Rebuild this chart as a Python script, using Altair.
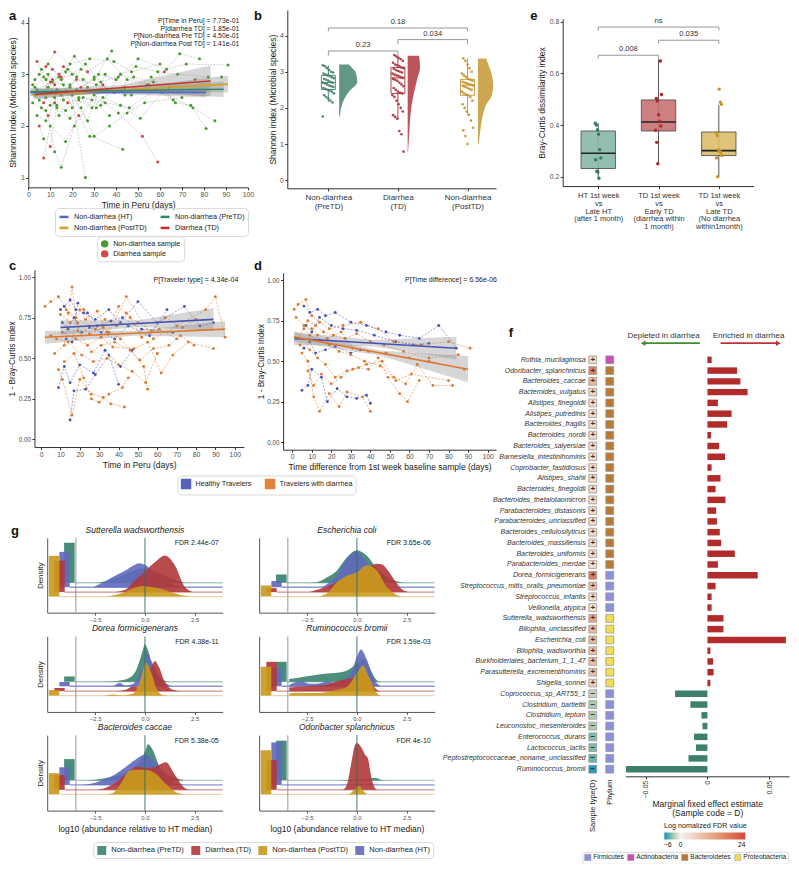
import altair as alt
import pandas as pd

FONT = "Liberation Sans"
S = 0.98
W, H = 783, 856


def X(p):
    return round((p - 2) * S, 2)


def Y(p):
    return round((p - 1) * S, 2)


# ----------------------------------------------------------------- data: a
A_KINDS = ["Non-diarrhea sample", "Diarrhea sample"]
a_days = [
    [2, 6, 11, 16, 22, 30, 38], [3, 7, 9, 14, 20, 27, 35, 44], [4, 8, 12, 18, 25, 33, 42, 55],
    [5, 7, 10, 13, 19, 26], [6, 9, 12, 15, 21, 29, 37], [3, 8, 12, 19, 28, 39, 47, 60],
    [5, 9, 14, 20, 30, 41, 52, 59], [7, 10, 17, 23, 28, 43], [10, 15, 22, 31, 44, 56, 67, 74, 81],
    [4, 11, 17, 24, 32, 40, 50, 63, 72, 91], [2, 8, 13, 18, 25, 35, 46, 58, 66],
    [9, 14, 21, 27, 36, 45, 54, 62, 69, 78], [6, 10, 16, 23, 29, 34, 42, 51, 61, 75, 85],
    [3, 7, 12, 16, 22, 27, 34, 39, 48, 57, 64, 76, 88], [8, 13, 19, 24, 30, 37, 45, 53, 70],
    [5, 9, 15, 20, 26, 33, 41, 49, 59, 68, 82], [4, 8, 12, 17, 23, 31], [11, 15, 19, 24, 30, 36, 47]]
a_vals = [
    [2.8, 3.1, 2.9, 2.5, 2.7, 2.9, 3.45], [2.6, 2.45, 3.0, 2.2, 2.6, 2.1, 3.0, 2.75],
    [3.25, 2.9, 2.55, 3.1, 2.9, 2.4, 3.0, 2.8], [2.0, 1.75, 1.6, 2.4, 2.8, 1.0],
    [2.35, 2.2, 1.5, 1.2, 2.0, 2.5, 2.2], [2.9, 3.15, 3.43, 3.2, 3.3, 3.25, 3.05, 3.2],
    [2.5, 2.75, 3.0, 2.35, 2.6, 2.25, 1.8, 1.3], [1.38, 2.0, 1.7, 2.2, 1.8, 1.55],
    [2.4, 2.6, 2.9, 2.8, 2.6, 2.95, 2.45, 2.4, 1.95], [2.7, 2.85, 3.05, 2.75, 3.0, 2.9, 3.3, 3.1, 3.2, 3.18],
    [2.45, 2.3, 2.7, 2.45, 2.55, 2.45, 2.35, 2.7, 2.5], [3.2, 2.95, 3.35, 3.05, 3.3, 2.9, 2.8, 3.05, 3.4, 3.3],
    [2.65, 2.85, 2.8, 2.5, 2.35, 2.55, 2.4, 2.15, 2.65, 2.35, 2.1],
    [2.75, 2.95, 2.8, 3.15, 2.95, 2.75, 2.8, 2.65, 2.95, 2.85, 2.75, 2.9, 2.95],
    [2.55, 2.35, 2.15, 2.35, 1.8, 2.0, 2.25, 2.45, 2.55], [3.0, 2.65, 2.9, 3.0, 3.2, 2.85, 2.95, 3.15, 3.05, 3.0, 2.95],
    [2.2, 2.1, 2.45, 2.3, 2.55, 2.35], [3.1, 2.95, 2.75, 3.1, 2.95, 2.7, 2.6]]
a_diar = [
    [0, 0, 1, 0, 0, 0, 0], [0, 1, 0, 0, 0, 0, 0, 0], [1, 0, 0, 0, 0, 0, 0, 0], [1, 0, 1, 0, 0, 0],
    [0, 1, 0, 0, 0, 0, 0], [0, 1, 1, 0, 0, 0, 0, 0], [0, 0, 1, 0, 0, 0, 1, 1], [1, 0, 0, 1, 0, 0],
    [0, 0, 1, 0, 0, 0, 0, 0, 0], [0, 0, 0, 1, 0, 0, 0, 0, 0, 0], [0, 0, 0, 1, 0, 0, 0, 0, 0],
    [0, 0, 0, 1, 0, 0, 0, 1, 0, 0], [0, 1, 0, 0, 0, 0, 0, 0, 0, 0, 0],
    [0, 0, 1, 1, 0, 0, 1, 0, 0, 0, 0, 0, 0], [0, 0, 0, 0, 0, 0, 0, 0, 0],
    [0, 0, 0, 0, 0, 0, 0, 0, 0, 0, 0], [0, 0, 1, 0, 0, 0], [1, 1, 0, 0, 0, 0, 0]]
A_GROUPS = ["Non-diarrhea (HT)", "Non-diarrhea (PostTD)", "Non-diarrhea (PreTD)", "Diarrhea (TD)"]
A_COLORS = ["#5566c8", "#d4a020", "#2e8a6e", "#c8322d"]
a_fit_days = [[1, 40, 81], [2, 45, 91], [1, 45, 89], [3, 42, 83]]
a_fit_vals = [[2.65, 2.65, 2.65], [2.6, 2.7, 2.81], [2.66, 2.685, 2.71], [2.61, 2.74, 2.87]]
a_fit_hw = [[0.06, 0.03, 0.1], [0.07, 0.04, 0.16], [0.08, 0.04, 0.15], [0.1, 0.05, 0.3]]
a_notes = ["P[Time in Peru] = 7.73e-01", "P[diarrhea TD] = 1.85e-01",
           "P[Non-diarrhea Pre TD] = 4.50e-01", "P[Non-diarrhea Post TD] = 1.41e-01"]

# ----------------------------------------------------------------- data: b
B_CATS = ["PreTD", "TD", "PostTD"]
B_COLORS = ["#3f7f6c", "#ad3035", "#c2932b"]
b_pre = [3.18, 3.15, 3.1, 3.05, 3.0, 2.98, 2.95, 2.92, 2.9, 2.88, 2.85, 2.82, 2.8, 2.78, 2.75, 2.72, 2.7,
         2.7, 2.68, 2.65, 2.62, 2.6, 2.58, 2.55, 2.52, 2.5, 2.48, 2.45, 2.4, 2.35, 2.3, 2.25, 2.2, 2.15, 1.76]
b_td = [3.46, 3.42, 3.38, 3.35, 3.3, 3.25, 3.2, 3.18, 3.15, 3.12, 3.1, 3.08, 3.05, 3.02, 3.0, 2.98, 2.95,
        2.92, 2.9, 2.88, 2.85, 2.83, 2.8, 2.78, 2.75, 2.7, 2.65, 2.6, 2.55, 2.5, 2.45, 2.42, 2.4, 2.35,
        2.3, 2.2, 2.1, 2.0, 1.9, 1.8, 1.75, 1.7, 1.36, 1.27, 0.79]
b_post = [3.37, 3.3, 3.2, 3.1, 3.0, 2.95, 2.9, 2.85, 2.8, 2.78, 2.75, 2.72, 2.7, 2.68, 2.66, 2.64, 2.62,
          2.6, 2.58, 2.55, 2.52, 2.5, 2.45, 2.4, 2.37, 2.35, 2.3, 2.2, 2.1, 2.0, 1.9, 1.81, 1.65, 1.45,
          1.38, 1.22, 1.0]
b_q1 = [2.51, 2.40, 2.35]
b_med = [2.70, 2.83, 2.63]
b_q3 = [2.90, 3.12, 2.79]
b_lo = [2.17, 1.68, 1.81]
b_hi = [3.17, 3.44, 3.37]
b_vio_y = [[1.76, 1.9, 2.17, 2.45, 2.72, 3.0, 3.1, 3.2],
           [0.79, 1.18, 1.63, 2.08, 2.44, 2.82, 3.11, 3.3, 3.44],
           [1.0, 1.36, 1.72, 2.08, 2.35, 2.63, 2.99, 3.2, 3.37]]
b_vio_w = [[0.01, 0.02, 0.056, 0.14, 0.26, 0.235, 0.19, 0.14],
           [0.005, 0.019, 0.033, 0.056, 0.094, 0.14, 0.178, 0.172, 0.164],
           [0.009, 0.033, 0.061, 0.117, 0.2, 0.22, 0.188, 0.15, 0.117]]
b_br_x1 = [1, 2, 1]
b_br_x2 = [2, 3, 3]
b_br_y = [3.575, 3.89, 4.21]
b_br_tick = [0.13, 0.12, 0.09]
b_br_lab = ["0.23", "0.034", "0.18"]

# ----------------------------------------------------------------- data: e
E_COLORS = ["#2f7d64", "#a82a2a", "#c8921e"]
E_FILLS = ["#8ab8aa", "#c97272", "#dcbd6a"]
e_pts = [[0.407, 0.4, 0.382, 0.364, 0.305, 0.273, 0.266, 0.221, 0.218, 0.194],
         [0.648, 0.518, 0.503, 0.493, 0.44, 0.415, 0.396, 0.38, 0.333, 0.25],
         [0.539, 0.488, 0.48, 0.37, 0.36, 0.305, 0.3, 0.295, 0.282, 0.273, 0.2]]
e_q1 = [0.232, 0.377, 0.282]
e_med = [0.291, 0.412, 0.301]
e_q3 = [0.377, 0.497, 0.373]
e_lo = [0.194, 0.25, 0.2]
e_hi = [0.407, 0.655, 0.478]
e_br_x1 = [1, 2, 1]
e_br_x2 = [2, 3, 3]
e_br_y = [0.67, 0.728, 0.779]
e_br_tick = [0.013, 0.013, 0.013]
e_br_lab = ["0.008", "0.035", "ns"]

# ----------------------------------------------------------------- data: c, d
CD_GROUPS = ["Healthy Travelers", "Travelers with diarrhea"]
CD_COLORS = ["#4652b5", "#e0762a"]
c_b_days = [[10, 12, 15, 18, 22, 28, 35, 41, 50, 60, 74, 82, 89], [11, 14, 17, 21, 25, 31, 38, 45, 56, 65],
            [9, 12, 15, 20, 27, 33, 41, 47], [13, 16, 19, 24, 29, 36, 42, 52, 68], [15, 17, 23, 28, 35, 40]]
c_b_vals = [[0.80, 0.82, 0.86, 0.80, 0.78, 0.74, 0.80, 0.72, 0.85, 0.72, 0.82, 0.70, 0.72],
            [0.72, 0.68, 0.75, 0.66, 0.69, 0.66, 0.62, 0.70, 0.64, 0.80],
            [0.32, 0.45, 0.35, 0.46, 0.41, 0.55, 0.45, 0.55],
            [0.62, 0.60, 0.84, 0.78, 0.70, 0.73, 0.75, 0.68, 0.66],
            [0.12, 0.30, 0.31, 0.40, 0.52, 0.34]]
c_o_days = [[2, 5, 9, 13, 18, 25, 35, 44, 58, 70, 85, 90, 95], [9, 11, 16, 20, 26, 32, 36, 43],
            [7, 12, 16, 19, 26, 31, 38, 46, 53, 55], [8, 14, 21, 27, 34, 40, 47, 54, 60],
            [10, 15, 22, 28, 33, 39, 44, 50, 57, 64, 73, 80], [12, 17, 22, 26, 30, 35, 42, 45],
            [5, 11, 18, 24, 31, 37, 48, 55, 62, 68, 76, 89], [14, 19, 25, 32, 41, 51, 58, 66, 72, 79],
            [20, 23, 29, 34, 40, 46, 52, 61, 70]]
c_o_vals = [[0.82, 0.85, 0.88, 0.80, 0.75, 0.70, 0.66, 0.88, 0.62, 0.70, 0.80, 0.88, 0.63],
            [0.43, 0.37, 0.15, 0.37, 0.28, 0.26, 0.22, 0.20],
            [0.53, 0.58, 0.94, 0.67, 0.54, 0.58, 0.60, 0.55, 0.45, 0.31],
            [0.62, 0.60, 0.52, 0.48, 0.50, 0.46, 0.42, 0.35, 0.53],
            [0.77, 0.72, 0.80, 0.68, 0.74, 0.70, 0.78, 0.72, 0.67, 0.75, 0.69, 0.74],
            [0.48, 0.53, 0.38, 0.25, 0.23, 0.28, 0.32, 0.38],
            [0.64, 0.66, 0.62, 0.58, 0.63, 0.57, 0.56, 0.60, 0.41, 0.52, 0.60, 0.56],
            [0.78, 0.72, 0.65, 0.69, 0.62, 0.49, 0.56, 0.58, 0.64, 0.58],
            [0.80, 0.74, 0.79, 0.66, 0.82, 0.75, 0.63, 0.68, 0.62]]
c_fit_days = [[10, 50, 89], [2, 48, 95]]
c_fit_vals = [[0.69, 0.715, 0.74], [0.63, 0.655, 0.68]]
c_fit_hw = [[0.045, 0.02, 0.07], [0.04, 0.015, 0.05]]

d_b_days = [[6, 9, 13, 17, 22, 30, 38, 48, 55, 65, 75, 84], [5, 8, 10, 15, 18, 23, 28, 33, 38, 40],
            [7, 10, 14, 20, 26, 33, 42, 53, 62, 70], [6, 9, 12, 17, 22, 30, 35]]
d_b_vals = [[0.84, 0.80, 0.82, 0.78, 0.80, 0.74, 0.72, 0.68, 0.66, 0.64, 0.72, 0.58],
            [0.32, 0.35, 0.45, 0.40, 0.25, 0.33, 0.28, 0.27, 0.29, 0.24],
            [0.72, 0.68, 0.77, 0.72, 0.70, 0.69, 0.66, 0.62, 0.60, 0.61],
            [0.58, 0.62, 0.55, 0.57, 0.59, 0.55, 0.57]]
d_o_days = [[1, 3, 7, 10, 14, 19, 26, 35, 44, 52, 66, 80, 91], [5, 8, 11, 14, 19, 24, 28, 36, 40],
            [4, 9, 13, 17, 22, 28, 34, 39, 44, 49, 55, 59, 65],
            [6, 9, 14, 19, 24, 30, 37, 45, 52, 58, 64, 72, 82],
            [3, 8, 12, 16, 21, 27, 33, 40, 47, 57, 70, 85], [8, 11, 15, 20, 25, 31, 38, 46, 53, 61, 80],
            [2, 6, 10, 13, 18, 25, 31, 39, 48, 60, 70, 88]]
d_o_vals = [[0.82, 0.85, 0.88, 0.78, 0.74, 0.70, 0.72, 0.74, 0.70, 0.62, 0.60, 0.62, 0.58],
            [0.55, 0.50, 0.28, 0.19, 0.30, 0.22, 0.31, 0.28, 0.19],
            [0.60, 0.57, 0.52, 0.48, 0.40, 0.44, 0.46, 0.45, 0.52, 0.40, 0.30, 0.25, 0.38],
            [0.70, 0.66, 0.63, 0.60, 0.56, 0.54, 0.50, 0.47, 0.40, 0.36, 0.48, 0.35, 0.35],
            [0.64, 0.75, 0.72, 0.68, 0.66, 0.64, 0.67, 0.62, 0.60, 0.56, 0.52, 0.54],
            [0.44, 0.35, 0.42, 0.36, 0.40, 0.45, 0.48, 0.50, 0.38, 0.42, 0.38],
            [0.77, 0.72, 0.70, 0.66, 0.64, 0.68, 0.58, 0.56, 0.55, 0.52, 0.50, 0.45]]
d_fit_days = [[1, 42, 84], [1, 45, 90]]
d_fit_vals = [[0.64, 0.61, 0.58], [0.65, 0.55, 0.45]]
d_fit_hw = [[0.04, 0.02, 0.07], [0.03, 0.015, 0.08]]

# ----------------------------------------------------------------- data: f
f_species = ["Rothia_mucilaginosa", "Odoribacter_splanchnicus", "Bacteroides_caccae", "Bacteroides_vulgatus",
             "Alistipes_finegoldii", "Alistipes_putredinis", "Bacteroides_fragilis", "Bacteroides_nordii",
             "Bacteroides_salyersiae", "Barnesiella_intestinihominis", "Coprobacter_fastidiosus",
             "Alistipes_shahii", "Bacteroides_finegoldii", "Bacteroides_thetaiotaomicron",
             "Parabacteroides_distasonis", "Parabacteroides_unclassified", "Bacteroides_cellulosilyticus",
             "Bacteroides_massiliensis", "Bacteroides_uniformis", "Parabacteroides_merdae",
             "Dorea_formicigenerans", "Streptococcus_mitis_oralis_pneumoniae", "Streptococcus_infantis",
             "Veillonella_atypica", "Sutterella_wadsworthensis", "Bilophila_unclassified", "Escherichia_coli",
             "Bilophila_wadsworthia", "Burkholderiales_bacterium_1_1_47", "Parasutterella_excrementihominis",
             "Shigella_sonnei", "Coprococcus_sp_ART55_1", "Clostridium_bartlettii", "Clostridium_leptum",
             "Leuconostoc_mesenteroides", "Enterococcus_durans", "Lactococcus_lactis",
             "Peptostreptococcaceae_noname_unclassified", "Ruminococcus_bromii"]
f_est = [0.0034, 0.024, 0.0267, 0.0325, 0.0085, 0.0196, 0.016, 0.0029, 0.0095, 0.0143, 0.0034, 0.0106,
         0.0066, 0.0146, 0.0071, 0.0077, 0.010, 0.0111, 0.0222, 0.0085, 0.0407, 0.0066, 0.0034, 0.0034,
         0.013, 0.013, 0.0635, 0.0024, 0.0045, 0.005, 0.0024, -0.0262, -0.0138, -0.0048, -0.004,
         -0.0108, -0.0093, -0.0153, -0.066]
f_fdr = [4, 17, 9, 5, 4, 4, 4, 4, 4, 4, 4, 4, 4, 4, 4, 4, 4, 4, 4, 3, 18, 8, 4, 3, 12, 9, 9, 8, 8, 8, 6,
         -2, -2.5, -2.5, -2.5, -3.5, -3.5, -4, -5.5]
f_phylum = (["Actinobacteria"] + ["Bacteroidetes"] * 19 + ["Firmicutes"] * 4 + ["Proteobacteria"] * 7
            + ["Firmicutes"] * 8)
PHYLA = ["Firmicutes", "Actinobacteria", "Bacteroidetes", "Proteobacteria"]
PHYLA_COLORS = ["#8c8fdc", "#c94fb2", "#b87a33", "#f2dc55"]

# ----------------------------------------------------------------- data: g
G_KEY = {"PreTD": "Non-diarrhea (PreTD)", "HT": "Non-diarrhea (HT)", "TD": "Diarrhea (TD)",
         "PostTD": "Non-diarrhea (PostTD)"}
g_names = ["Sutterella wadsworthensis", "Escherichia coli", "Dorea formicigenerans", "Ruminococcus bromii",
           "Bacteroides caccae", "Odoribacter splanchnicus"]
g_fdr = ["FDR 2.44e-07", "FDR 3.65e-06", "FDR 4.38e-11", "FDR 1.59e-03", "FDR 5.38e-05", "FDR 4e-10"]
g_sut = {"PreTD": ([-2.5, -2.0, -1.5, -1.0, -0.5, 0.0, 0.5, 1.0, 1.5, 2.0], [0, 0.2, 0.6, 1.1, 1.7, 1.9, 1.5, 0.9, 0.4, 0]),
         "HT": ([-2.6, -2.0, -1.6, -1.0, -0.5, -0.3, 0.0, 0.5, 1.0, 1.5, 2.0], [0, 0.8, 1.4, 2.2, 3.0, 3.2, 3.0, 1.8, 0.8, 0.3, 0]),
         "TD": ([-1.5, -1.0, -0.5, 0.0, 0.5, 1.0, 1.5, 2.0, 2.4], [0, 0.3, 1.6, 2.8, 4.0, 4.9, 3.6, 0.7, 0]),
         "PostTD": ([-2.0, -1.5, -1.0, -0.5, -0.15, 0.5, 1.0, 1.5, 2.0, 2.3], [0, 0.2, 0.6, 1.2, 1.43, 1.2, 0.87, 0.43, 0.1, 0])}
g_eco = {"PreTD": ([-2.4, -2.0, -1.5, -1.0, -0.5, 0.0, 0.5, 1.0, 1.5, 2.0, 2.4], [0, 0.1, 0.74, 1.65, 3.4, 4.35, 3.6, 1.9, 0.8, 0.2, 0]),
         "HT": ([-1.8, -1.5, -1.0, -0.5, 0.0, 0.5, 1.0, 1.5, 1.8], [0, 0.4, 1.6, 3.8, 4.74, 3.3, 1.3, 0.2, 0]),
         "TD": ([-2.4, -2.0, -1.5, -1.0, -0.5, 0.0, 0.5, 1.0, 1.3, 1.5, 2.0, 2.3, 2.6], [0, 0.3, 0.74, 1.4, 2.0, 2.35, 3.1, 3.8, 3.65, 3.1, 1.2, 0.3, 0]),
         "PostTD": ([-1.9, -1.5, -1.0, -0.5, 0.0, 0.5, 1.0, 1.5, 2.0, 2.3], [0, 0.43, 1.96, 2.8, 3.26, 4.2, 3.5, 1.3, 0.2, 0])}
g_dor = {"PreTD": ([-2.0, -1.2, -0.8, -0.4, -0.15, 0.0, 0.15, 0.4, 0.8, 1.2], [0, 0.2, 0.5, 1.8, 3.8, 4.95, 4.2, 1.8, 0.4, 0]),
         "HT": ([-1.6, -1.25, -1.0, -0.6, -0.3, 0.0, 0.12, 0.3, 0.6, 1.0, 1.4], [0, 0.45, 0.1, 0.3, 1.5, 3.4, 4.35, 3.5, 1.8, 0.5, 0]),
         "TD": ([-1.5, -1.0, -0.6, -0.3, 0.0, 0.3, 0.5, 0.7, 1.0, 1.4, 1.8], [0, 0.15, 0.65, 0.5, 1.5, 3.0, 4.0, 3.2, 1.2, 0.2, 0]),
         "PostTD": ([-2.0, -1.6, -1.2, -0.6, -0.3, 0.05, 0.35, 0.6, 0.9, 1.2], [0, 0.15, 0.05, 0.3, 1.5, 4.4, 2.8, 0.8, 0.1, 0])}
g_rum = {"PreTD": ([-3.4, -2.5, -1.5, -1.0, -0.5, 0.0, 0.3, 0.6, 1.0, 1.2], [0.35, 0.74, 1.1, 1.2, 1.5, 2.4, 3.0, 2.0, 0.2, 0]),
         "HT": ([-3.4, -2.8, -2.4, -2.0, -1.4, -1.1, -0.8, -0.3, 0.0, 0.2, 0.5, 0.8, 1.0, 1.2], [0.2, 0.65, 0.35, 0.35, 0.65, 0.4, 0.65, 1.74, 3.9, 4.87, 3.5, 1.3, 0.4, 0]),
         "TD": ([-3.4, -2.5, -1.5, -1.0, -0.5, 0.0, 0.3, 0.6, 1.0, 1.2], [0.5, 0.65, 0.87, 1.3, 1.6, 1.96, 2.4, 1.5, 0.2, 0]),
         "PostTD": ([-3.4, -3.0, -2.0, -1.0, -0.5, 0.0, 0.3, 0.6, 1.0, 1.2], [0.3, 0.4, 0.35, 0.8, 1.2, 3.0, 4.0, 2.5, 0.35, 0])}
g_cac = {"PreTD": ([-3.0, -2.0, -1.5, -1.0, -0.5, 0.0, 0.15, 0.4, 0.7, 1.0, 1.5, 2.0], [0, 0.3, 0.6, 1.0, 1.8, 3.8, 4.8, 4.0, 2.0, 1.0, 0.4, 0]),
         "HT": ([-3.2, -2.5, -2.0, -1.5, -1.0, -0.5, 0.0, 0.5, 1.0, 1.5, 2.0], [0, 0.3, 0.8, 1.4, 2.3, 3.3, 4.0, 3.1, 1.4, 0.3, 0]),
         "TD": ([-2.4, -2.0, -1.5, -1.0, -0.5, -0.3, 0.0, 0.4, 0.7, 1.05, 1.5, 2.0, 2.3], [0, 0.25, 0.9, 2.0, 3.0, 3.1, 2.9, 2.95, 3.3, 3.65, 2.0, 0.26, 0]),
         "PostTD": ([-2.0, -1.6, -1.2, -0.8, -0.5, 0.0, 0.3, 0.6, 1.0, 1.5, 2.0], [0, 0.2, 1.5, 3.1, 3.26, 3.26, 3.1, 2.6, 1.5, 0.4, 0])}
g_odo = {"PreTD": ([-0.8, -0.3, 0.3, 0.6, 0.9, 1.2, 1.5], [0, 0.1, 0.15, 0.2, 0.35, 0.1, 0]),
         "HT": ([-0.8, -0.2, 0.3, 0.8, 1.2], [0, 0.05, 0.1, 0.05, 0]),
         "TD": ([-0.7, -0.5, -0.3, -0.1, 0.0, 0.2, 0.4, 0.55, 0.7, 0.9, 1.05], [0, 0.7, 3.3, 5.9, 6.2, 5.7, 4.7, 4.2, 2.0, 0.26, 0]),
         "PostTD": ([-0.5, -0.3, -0.1, 0.1, 0.3, 0.5], [0, 0.2, 0.7, 1.1, 0.5, 0])}
g_curves = [g_sut, g_eco, g_dor, g_rum, g_cac, g_odo]
# zero-abundance bar tops, order PreTD, HT, TD, PostTD
g_bars = [[9.35, 8.13, 6.96, 7.6], [5.11, 4.23, 3.28, 3.62], [4.7, 3.96, 3.17, 2.9],
          [6.64, 5.77, 6.64, 5.99], [6.83, 5.74, 4.7, 4.96], [9.27, 9.04, 6.68, 8.0]]

# ----------------------------------------------------------------- helpers
BASE_AX = dict(grid=False, labelFontSize=6.8, titleFontSize=8.5, labelColor="#4d4d4d",
               titleColor="#1a1a1a", domainColor="#333333", tickColor="#333333",
               tickSize=2.5, labelPadding=1.5, titlePadding=2.5, titleFontWeight="normal",
               labelFlush=False, labelOverlap=False, labelFont=FONT, titleFont=FONT)


def axb(yref, **kw):
    d = dict(BASE_AX)
    d.update(kw)
    return alt.Axis(orient="bottom", offset=round(Y(yref) - H, 2), **d)


def axl(xref, **kw):
    d = dict(BASE_AX)
    d.update(kw)
    return alt.Axis(orient="left", offset=round(-X(xref), 2), **d)


def xsc(dom, x0, x1):
    return alt.Scale(domain=dom, range=[X(x0), X(x1)], nice=False, zero=False)


def ysc(dom, yb, yt):
    return alt.Scale(domain=dom, range=[Y(yb), Y(yt)], nice=False, zero=False)


def label(text, px, py, **kw):
    return alt.Chart(pd.DataFrame({"k": [0]})).mark_text(text=text, **kw).encode(
        x=alt.value(X(px)), y=alt.value(Y(py)))


LEG = dict(labelFont=FONT, labelFontSize=7.2, labelColor="#222222", strokeColor="#d9d9d9",
           padding=3, cornerRadius=4, title=None)

layers = []

# ----------------------------------------------------------------- panel a
rows = []
for s, (ds, vs, ks) in enumerate(zip(a_days, a_vals, a_diar)):
    for d, v, k in zip(ds, vs, ks):
        rows.append({"subj": s, "day": d, "val": v, "kind": A_KINDS[k]})
df_a = pd.DataFrame(rows)
rows = []
for g, ds, vs, hs in zip(A_GROUPS, a_fit_days, a_fit_vals, a_fit_hw):
    for d, v, h in zip(ds, vs, hs):
        rows.append({"grp": g, "day": d, "fit": v, "lo": v - h, "hi": v + h})
df_fa = pd.DataFrame(rows)
sxa = xsc([0, 100], 22.7, 246.7)
sya = ysc([0.81, 4.114], 184, 10)
xa_a = axb(184, values=list(range(0, 101, 10)), title="Time in Peru (days)")
ya_a = axl(22.7, values=[1, 2, 3, 4], title="Shannon Index (Microbial species)", titlePadding=3)
a_traj = alt.Chart(df_a).mark_line(strokeDash=[1.5, 1.5], strokeWidth=0.5, color="#8f8f8f").encode(
    x=alt.X("day:Q", scale=sxa, axis=xa_a), y=alt.Y("val:Q", scale=sya, axis=ya_a), detail="subj:N")
a_pts = alt.Chart(df_a).mark_circle(size=9, opacity=1).encode(
    x=alt.X("day:Q", scale=sxa, axis=xa_a), y=alt.Y("val:Q", scale=sya, axis=ya_a),
    fill=alt.Fill("kind:N", scale=alt.Scale(domain=A_KINDS, range=["#4a9a2e", "#d24646"]),
                  legend=alt.Legend(orient="none", legendX=X(93), legendY=Y(234), symbolType="circle",
                                    symbolSize=55, rowPadding=1, **LEG)))
a_band = alt.Chart(df_fa).mark_area(color="#8a8a8a", opacity=0.35).encode(
    x=alt.X("day:Q", scale=sxa, axis=xa_a), y=alt.Y("lo:Q", scale=sya, axis=ya_a), y2="hi:Q", detail="grp:N")
a_fit = alt.Chart(df_fa).mark_line(strokeWidth=1.6).encode(
    x=alt.X("day:Q", scale=sxa, axis=xa_a), y=alt.Y("fit:Q", scale=sya, axis=ya_a),
    color=alt.Color("grp:N", scale=alt.Scale(domain=A_GROUPS, range=A_COLORS),
                    legend=alt.Legend(orient="none", legendX=X(50), legendY=Y(205), columns=2,
                                      symbolType="stroke", symbolStrokeWidth=2.5, symbolSize=80,
                                      columnPadding=8, rowPadding=0, **LEG)))
a_note = label(a_notes, 238, 11.5, align="right", baseline="top", fontSize=6.8, lineHeight=7.5, color="#222222")
layers.append(alt.layer(a_traj, a_pts, a_band, a_fit, a_note))


# ----------------------------------------------------------------- box helpers
def jitter(i, amp):
    return ((i * 37) % 17 - 8) / 8 * amp


def brackets(x1s, x2s, ys, ticks, labs, sx, sy, xa, ya):
    df = pd.DataFrame({"x1": x1s, "x2": x2s, "y": ys, "yt": [y - t for y, t in zip(ys, ticks)],
                       "xm": [(a + b) / 2 for a, b in zip(x1s, x2s)], "lab": labs})
    r1 = alt.Chart(df).mark_rule(color="#8c8c8c", strokeWidth=0.9).encode(
        x=alt.X("x1:Q", scale=sx, axis=xa), x2="x2:Q", y=alt.Y("y:Q", scale=sy, axis=ya))
    r2 = alt.Chart(df).mark_rule(color="#8c8c8c", strokeWidth=0.9).encode(
        x=alt.X("x1:Q", scale=sx, axis=xa), y=alt.Y("y:Q", scale=sy, axis=ya), y2="yt:Q")
    r3 = alt.Chart(df).mark_rule(color="#8c8c8c", strokeWidth=0.9).encode(
        x=alt.X("x2:Q", scale=sx, axis=xa), y=alt.Y("y:Q", scale=sy, axis=ya), y2="yt:Q")
    t = alt.Chart(df).mark_text(fontSize=7.5, color="#333333", baseline="bottom", dy=-2).encode(
        x=alt.X("xm:Q", scale=sx, axis=xa), y=alt.Y("y:Q", scale=sy, axis=ya), text="lab:N")
    return [r1, r2, r3, t]


# ----------------------------------------------------------------- panel b
sxb = xsc([0.41, 3.41], 287, 500)
syb = ysc([-0.225, 4.71], 185, 3)
bcol = alt.Scale(domain=B_CATS, range=B_COLORS)
B_LAB = ("datum.value == 1 ? ['Non-diarrhea', '(PreTD)'] : datum.value == 2 ? ['Diarrhea', '(TD)'] "
         ": ['Non-diarrhea', '(PostTD)']")
xa_b = axb(185, values=[1, 2, 3], labelExpr=B_LAB, labelFontSize=8, labelColor="#333333",
           labelLineHeight=9, labelPadding=3, title=None)
ya_b = axl(287, values=[0, 1, 2, 3, 4], title="Shannon index (Microbial species)")
rows = []
i = 0
for c, pos, vals in zip(B_CATS, [1, 2, 3], [b_pre, b_td, b_post]):
    for v in vals:
        rows.append({"cat": c, "x": pos + jitter(i, 0.08), "v": v})
        i += 1
df_bp = pd.DataFrame(rows)
rows = []
for c, pos, off, ys, ws in zip(B_CATS, [1, 2, 3], [0.155, 0.14, 0.15], b_vio_y, b_vio_w):
    for y, w in zip(ys, ws):
        rows.append({"cat": c, "y": y, "xl": pos + off, "xr": pos + off + w})
df_bv = pd.DataFrame(rows)
df_bb = pd.DataFrame({"cat": B_CATS, "pos": [1, 2, 3], "xl": [0.9, 1.9, 2.9], "xr": [1.1, 2.1, 3.1],
                      "q1": b_q1, "med": b_med, "q3": b_q3, "lo": b_lo, "hi": b_hi})
b_vio = alt.Chart(df_bv).mark_area(orient="horizontal", interpolate="monotone", opacity=0.82).encode(
    y=alt.Y("y:Q", scale=syb, axis=ya_b), x=alt.X("xl:Q", scale=sxb, axis=xa_b), x2="xr:Q",
    color=alt.Color("cat:N", scale=bcol, legend=None))
b_box = alt.Chart(df_bb).mark_rect(fillOpacity=0, strokeWidth=0.9).encode(
    x=alt.X("xl:Q", scale=sxb, axis=xa_b), x2="xr:Q",
    y=alt.Y("q1:Q", scale=syb, axis=ya_b), y2="q3:Q", stroke=alt.Stroke("cat:N", scale=bcol, legend=None))
b_med = alt.Chart(df_bb).mark_rule(strokeWidth=1).encode(
    x=alt.X("xl:Q", scale=sxb, axis=xa_b), x2="xr:Q", y=alt.Y("med:Q", scale=syb, axis=ya_b),
    color=alt.Color("cat:N", scale=bcol, legend=None))
b_w1 = alt.Chart(df_bb).mark_rule(strokeWidth=0.9).encode(
    x=alt.X("pos:Q", scale=sxb, axis=xa_b), y=alt.Y("lo:Q", scale=syb, axis=ya_b), y2="q1:Q",
    color=alt.Color("cat:N", scale=bcol, legend=None))
b_w2 = alt.Chart(df_bb).mark_rule(strokeWidth=0.9).encode(
    x=alt.X("pos:Q", scale=sxb, axis=xa_b), y=alt.Y("q3:Q", scale=syb, axis=ya_b), y2="hi:Q",
    color=alt.Color("cat:N", scale=bcol, legend=None))
b_pts = alt.Chart(df_bp).mark_circle(size=7, opacity=0.9).encode(
    x=alt.X("x:Q", scale=sxb, axis=xa_b), y=alt.Y("v:Q", scale=syb, axis=ya_b),
    color=alt.Color("cat:N", scale=bcol, legend=None))
layers.append(alt.layer(b_vio, b_box, b_med, b_w1, b_w2, b_pts,
                        *brackets(b_br_x1, b_br_x2, b_br_y, b_br_tick, b_br_lab, sxb, syb, xa_b, ya_b)))

# ----------------------------------------------------------------- panel e
sxe = xsc([0.41, 3.58], 568, 763)
sye = ysc([0.164, 0.811], 182.7, 12)
ecol = alt.Scale(domain=B_CATS, range=E_COLORS)
efill = alt.Scale(domain=B_CATS, range=E_FILLS)
E_LAB = ("datum.value == 1 ? ['HT 1st week', 'vs', 'Late HT', '(after 1 month)'] : datum.value == 2 ? "
         "['TD 1st week', 'vs', 'Early TD', '(diarrhea within', '1 month)'] : "
         "['TD 1st week', 'vs', 'Late TD', '(No diarrhea', 'within1month)']")
xa_e = axb(182.7, values=[1, 2, 3], labelExpr=E_LAB, labelFontSize=7.5, labelColor="#333333",
           labelLineHeight=7.8, labelPadding=3, title=None)
ya_e = axl(568, values=[0.2, 0.4, 0.6, 0.8], format=".1f", title="Bray-Curtis dissimilarity index")
rows = []
i = 0
for c, pos, vals in zip(B_CATS, [1, 2, 3], e_pts):
    for v in vals:
        rows.append({"cat": c, "x": pos + jitter(i, 0.05), "v": v})
        i += 1
df_ep = pd.DataFrame(rows)
df_eb = pd.DataFrame({"cat": B_CATS, "pos": [1, 2, 3], "xl": [0.715, 1.715, 2.715], "xr": [1.285, 2.285, 3.285],
                      "q1": e_q1, "med": e_med, "q3": e_q3, "lo": e_lo, "hi": e_hi})
e_w1 = alt.Chart(df_eb).mark_rule(strokeWidth=1, color="#555555").encode(
    x=alt.X("pos:Q", scale=sxe, axis=xa_e), y=alt.Y("lo:Q", scale=sye, axis=ya_e), y2="hi:Q")
e_box = alt.Chart(df_eb).mark_rect(stroke="#444444", strokeWidth=0.9, opacity=0.9).encode(
    x=alt.X("xl:Q", scale=sxe, axis=xa_e), x2="xr:Q", y=alt.Y("q1:Q", scale=sye, axis=ya_e), y2="q3:Q",
    fill=alt.Fill("cat:N", scale=efill, legend=None))
e_med = alt.Chart(df_eb).mark_rule(strokeWidth=1.6, color="#222222").encode(
    x=alt.X("xl:Q", scale=sxe, axis=xa_e), x2="xr:Q", y=alt.Y("med:Q", scale=sye, axis=ya_e))
e_pts = alt.Chart(df_ep).mark_circle(size=12, opacity=1).encode(
    x=alt.X("x:Q", scale=sxe, axis=xa_e), y=alt.Y("v:Q", scale=sye, axis=ya_e),
    color=alt.Color("cat:N", scale=ecol, legend=None))
layers.append(alt.layer(e_w1, e_box, e_med, e_pts,
                        *brackets(e_br_x1, e_br_x2, e_br_y, e_br_tick, e_br_lab, sxe, sye, xa_e, ya_e)))


# ----------------------------------------------------------------- panels c, d
def cd_panel(bd, bv, od, ov, fd, fv, fh, sx, sy, xb, yl, xtitle, note, note_x, note_y, legend):
    rows = []
    for gi, (dd, vv) in enumerate([(bd, bv), (od, ov)]):
        for s, (ds, vs) in enumerate(zip(dd, vv)):
            for d, v in zip(ds, vs):
                rows.append({"grp": CD_GROUPS[gi], "subj": f"{gi}-{s}", "day": d, "val": v})
    df = pd.DataFrame(rows)
    rows = []
    for g, ds, vs, hs in zip(CD_GROUPS, fd, fv, fh):
        for d, v, h in zip(ds, vs, hs):
            rows.append({"grp": g, "day": d, "fit": v, "lo": v - h, "hi": v + h})
    dff = pd.DataFrame(rows)
    csc = alt.Scale(domain=CD_GROUPS, range=CD_COLORS)
    xa = axb(xb, values=list(range(0, 101, 10)), title=xtitle)
    ya = axl(yl, values=[0, 0.25, 0.5, 0.75, 1.0], format=".2f", title="1 - Bray-Curtis Index",
             labelFontSize=6.3, titlePadding=1.5, titleFontSize=8.2)
    leg = None
    if legend:
        leg = alt.Legend(orient="none", legendX=X(175), legendY=Y(478), direction="horizontal",
                         symbolType="square", symbolSize=80, columnPadding=10, **LEG)
    col = alt.Color("grp:N", scale=csc, legend=leg)
    traj = alt.Chart(df).mark_line(strokeDash=[2, 1.5], strokeWidth=0.6, opacity=0.9).encode(
        x=alt.X("day:Q", scale=sx, axis=xa), y=alt.Y("val:Q", scale=sy, axis=ya), detail="subj:N", color=col)
    pts = alt.Chart(df).mark_circle(size=8, opacity=1).encode(
        x=alt.X("day:Q", scale=sx, axis=xa), y=alt.Y("val:Q", scale=sy, axis=ya), color=col)
    band = alt.Chart(dff).mark_area(color="#8a8a8a", opacity=0.35).encode(
        x=alt.X("day:Q", scale=sx, axis=xa), y=alt.Y("lo:Q", scale=sy, axis=ya), y2="hi:Q", detail="grp:N")
    fit = alt.Chart(dff).mark_line(strokeWidth=1.6).encode(
        x=alt.X("day:Q", scale=sx, axis=xa), y=alt.Y("fit:Q", scale=sy, axis=ya), color=col)
    nt = label(note, note_x, note_y, align="right", baseline="middle", fontSize=7, color="#222222")
    return alt.layer(traj, pts, band, fit, nt)


layers.append(cd_panel(c_b_days, c_b_vals, c_o_days, c_o_vals, c_fit_days, c_fit_vals, c_fit_hw,
                       xsc([-3.4, 104.7], 29, 242.7), ysc([-0.0465, 1.0465], 449, 268), 449, 29,
                       "Time in Peru (days)", "P[Traveler type] = 4.34e-04", 237, 279, True))
layers.append(cd_panel(d_b_days, d_b_vals, d_o_days, d_o_vals, d_fit_days, d_fit_vals, d_fit_hw,
                       xsc([-4.66, 104.3], 282.7, 500), ysc([-0.0465, 1.0465], 451.7, 271), 451.7, 282.7,
                       "Time difference from 1st week baseline sample (days)",
                       "P[Time difference] = 6.56e-06", 501, 279, False))

# ----------------------------------------------------------------- panel f
df_f = pd.DataFrame({"species": f_species, "est": f_est, "fdr": f_fdr, "phylum": f_phylum,
                     "sign": ["+" if e > 0 else "\u2212" for e in f_est],
                     "dir": ["pos" if e > 0 else "neg" for e in f_est],
                     "c1": "Sample type(D)", "c2": "Phylum", "zero": 0.0})
syf = alt.Scale(type="band", domain=f_species, range=[Y(354.5), Y(783.2)], paddingInner=0.4, paddingOuter=0.2)
sxt = alt.Scale(type="band", domain=["Sample type(D)", "Phylum"], range=[X(590), X(624.7)],
                paddingInner=0, paddingOuter=0)
xa_t = axb(785, labelAngle=270, labelAlign="right", labelBaseline="middle", labelFontSize=7.5,
           labelColor="#222222", domain=False, ticks=False, labelPadding=3, title=None)
ya_t = axl(593, labelFontSize=7, labelFontStyle="italic", labelColor="#333333", domain=False, ticks=False,
           labelPadding=2, labelLimit=300, title=None)
t_fdr = alt.Chart(df_f).mark_square(size=62, filled=True, stroke="#9a9a9a", strokeWidth=0.8, opacity=1).encode(
    x=alt.X("c1:N", scale=sxt, axis=xa_t), y=alt.Y("species:N", scale=syf, axis=ya_t),
    color=alt.Color("fdr:Q", scale=alt.Scale(domain=[-6, 0, 24], range=["#1b8fc2", "#f5f3f1", "#d3473a"]),
                    legend=alt.Legend(orient="none", legendX=X(671.7), legendY=Y(832), direction="horizontal",
                                      title="Log nomalized FDR value", titleFontSize=7.2,
                                      titleFontWeight="normal", titleAnchor="middle", titleFont=FONT,
                                      titleColor="#222222",
                                      gradientLength=round(X(754) - X(671.7)), gradientThickness=7,
                                      values=[-6, 0, 24], labelFontSize=6.5, labelFont=FONT, titlePadding=3)))
t_sign = alt.Chart(df_f).mark_text(fontSize=8, fontWeight="bold", color="#333333", baseline="middle").encode(
    x=alt.X("c1:N", scale=sxt, axis=xa_t), y=alt.Y("species:N", scale=syf, axis=ya_t), text="sign:N")
t_phy = alt.Chart(df_f).mark_square(size=62, filled=True, stroke="#9a9a9a", strokeWidth=0.8, opacity=1).encode(
    x=alt.X("c2:N", scale=sxt, axis=xa_t), y=alt.Y("species:N", scale=syf, axis=ya_t),
    fill=alt.Fill("phylum:N", scale=alt.Scale(domain=PHYLA, range=PHYLA_COLORS),
                  legend=alt.Legend(orient="none", legendX=X(588), legendY=Y(862), direction="horizontal",
                                    symbolType="square", symbolSize=40, columnPadding=2, labelOffset=2,
                                    gridAlign="each", symbolStrokeColor="#999999", symbolStrokeWidth=0.5,
                                    labelFont=FONT, labelFontSize=6.6, labelColor="#222222",
                                    strokeColor="#d9d9d9", padding=2, cornerRadius=3, title=None)))
layers.append(alt.layer(t_fdr, t_sign, t_phy))

sxf = xsc([-0.0664, 0.0661], 632, 799)
xa_f = axb(785, values=[-0.05, 0, 0.05], format="~g", labelAngle=270, labelAlign="right",
           labelBaseline="middle", labelFontSize=7, labelColor="#333333", tickSize=2.5,
           title=["Marginal fixed effect estimate", "(Sample code = D)"], titleFontSize=8.5,
           titlePadding=1, titleLineHeight=9)
f_bar = alt.Chart(df_f).mark_bar().encode(
    x=alt.X("est:Q", scale=sxf, axis=xa_f), x2="zero:Q",
    y=alt.Y("species:N", scale=syf, axis=None),
    color=alt.Color("dir:N", scale=alt.Scale(domain=["pos", "neg"], range=["#b22b2b", "#3d7f6d"]), legend=None))
arr = pd.DataFrame({"x1": [-0.0061, 0.0106], "x2": [-0.052, 0.0574], "xt": [-0.0355, 0.0333],
                    "lab": ["Depleted in diarrhea", "Enriched in diarrhea"]})
arr_g = arr.iloc[[0]]
arr_r = arr.iloc[[1]]
f_ar1 = alt.Chart(arr_g).mark_rule(color="#3f8f2f", strokeWidth=1.6).encode(
    x=alt.X("x1:Q", scale=sxf, axis=xa_f), x2="x2:Q", y=alt.value(Y(343)))
f_ar2 = alt.Chart(arr_r).mark_rule(color="#c0323a", strokeWidth=1.6).encode(
    x=alt.X("x1:Q", scale=sxf, axis=xa_f), x2="x2:Q", y=alt.value(Y(343)))
f_h1 = alt.Chart(arr_g).mark_point(shape="triangle-left", filled=True, size=30, color="#3f8f2f", opacity=1).encode(
    x=alt.X("x2:Q", scale=sxf, axis=xa_f), y=alt.value(Y(343)))
f_h2 = alt.Chart(arr_r).mark_point(shape="triangle-right", filled=True, size=30, color="#c0323a", opacity=1).encode(
    x=alt.X("x2:Q", scale=sxf, axis=xa_f), y=alt.value(Y(343)))
f_txt = alt.Chart(arr).mark_text(fontSize=8, color="#333333", baseline="middle").encode(
    x=alt.X("xt:Q", scale=sxf, axis=xa_f), y=alt.value(Y(336)), text="lab:N")
layers.append(alt.layer(f_bar, f_ar1, f_ar2, f_h1, f_h2, f_txt))

# ----------------------------------------------------------------- panel g
G_ORDER = ["PreTD", "HT", "TD", "PostTD"]
G_BASE = {"PreTD": 4.0, "HT": 3.4, "TD": 2.75, "PostTD": 2.15}
G_BX = {"PreTD": (-4.06, -3.53), "HT": (-4.3, -3.78), "TD": (-4.55, -4.03), "PostTD": (-4.83, -4.3)}
G_FILL = {"PreTD": "#3a8270", "HT": "#6169bd", "TD": "#b3373a", "PostTD": "#c99a1c"}
G_LINE = {"PreTD": "#a9cbbf", "HT": "#8d94d4", "TD": "#d78e8e", "PostTD": "#e6d8b6"}
G_LEG_ORDER = ["PreTD", "TD", "PostTD", "HT"]
gscale = alt.Scale(domain=[G_KEY[k] for k in G_LEG_ORDER], range=[G_FILL[k] for k in G_LEG_ORDER])
G_COLS = [(42, 221), (258.3, 437.3)]
G_ROWS = [(618, 541.7), (719.3, 642.3), (820, 743)]
G_POS = [(0, 0), (0, 1), (1, 0), (1, 1), (2, 0), (2, 1)]


def g_panel(i):
    row, col = G_POS[i]
    x0, x1 = G_COLS[col]
    yb, yt = G_ROWS[row]
    sx = xsc([-4.91, 3.9], x0, x1)
    sy = ysc([0, 10], yb, yt)
    xa = axb(yb, values=[-2.5, 0, 2.5], format=".1f", labelFontSize=6, tickSize=2.5,
             labelColor="#555555", domainColor="#555555", tickColor="#555555",
             title=("log10 (abundance relative to HT median)" if row == 2 else None), titlePadding=4)
    ya = axl(x0, labels=False, ticks=False, domainColor="#555555",
             title=("Density" if col == 0 else None), titleFontSize=8)
    leg = None
    if i == 4:
        leg = alt.Legend(orient="none", legendX=X(89), legendY=Y(852), direction="horizontal",
                         symbolType="square", symbolSize=80, columnPadding=6, padding=3,
                         labelFont=FONT, labelFontSize=7.5, labelColor="#222222",
                         strokeColor="#d9d9d9", cornerRadius=4, title=None)
    ls = []
    for gi, k in enumerate(G_ORDER):
        base = G_BASE[k]
        bx1, bx2 = G_BX[k]
        rd = pd.DataFrame({"x": [bx2], "x2": [3.9], "y": [base]})
        ls.append(alt.Chart(rd).mark_rule(color=G_LINE[k], strokeWidth=1.3).encode(
            x=alt.X("x:Q", scale=sx, axis=xa), x2="x2:Q", y=alt.Y("y:Q", scale=sy, axis=ya)))
        bd = pd.DataFrame({"x": [bx1], "x2": [bx2], "y": [base], "y2": [g_bars[i][gi]]})
        ls.append(alt.Chart(bd).mark_rect(color=G_FILL[k], opacity=0.92).encode(
            x=alt.X("x:Q", scale=sx, axis=xa), x2="x2:Q", y=alt.Y("y:Q", scale=sy, axis=ya), y2="y2:Q"))
        xs_, hs_ = g_curves[i][k]
        ad = pd.DataFrame({"x": xs_, "lo": [base] * len(xs_), "hi": [base + h for h in hs_], "grp": G_KEY[k]})
        ls.append(alt.Chart(ad).mark_area(interpolate="monotone", opacity=0.9).encode(
            x=alt.X("x:Q", scale=sx, axis=xa), y=alt.Y("hi:Q", scale=sy, axis=ya), y2="lo:Q",
            color=alt.Color("grp:N", scale=gscale, legend=leg)))
    vd1 = pd.DataFrame({"x": [-3.47], "y": [0], "y2": [10]})
    vd2 = pd.DataFrame({"x": [0.0], "y": [0], "y2": [10]})
    ls.append(alt.Chart(vd1).mark_rule(color="#8a8a8a", strokeWidth=0.9).encode(
        x=alt.X("x:Q", scale=sx, axis=xa), y=alt.Y("y:Q", scale=sy, axis=ya), y2="y2:Q"))
    ls.append(alt.Chart(vd2).mark_rule(color="#2f6e5f", strokeWidth=0.9).encode(
        x=alt.X("x:Q", scale=sx, axis=xa), y=alt.Y("y:Q", scale=sy, axis=ya), y2="y2:Q"))
    ls.append(label(g_names[i], (x0 + x1) / 2, yt - 8.5, align="center", baseline="middle",
                    fontStyle="italic", fontSize=8.5, color="#222222"))
    ls.append(label(g_fdr[i], x1 - 4, yt + 5.5, align="right", baseline="middle", fontSize=7,
                    color="#222222"))
    return alt.layer(*ls)


for i in range(6):
    layers.append(g_panel(i))

# ----------------------------------------------------------------- panel letters
for t, px, py in [("a", 3, 3), ("b", 253, 3), ("e", 535, 3), ("c", 3, 258), ("d", 253, 258),
                  ("f", 513, 327), ("g", 5, 529)]:
    layers.append(label(t, px, py, align="left", baseline="top", fontSize=13, fontWeight="bold",
                        color="#111111"))

chart = alt.layer(*layers).resolve_scale(
    x="independent", y="independent", color="independent", fill="independent", stroke="independent"
).properties(
    width=W, height=H, padding=0, autosize=alt.AutoSizeParams(type="none")
).configure_view(stroke=None).configure_text(font=FONT)

chart.save("out.html", embed_options={"renderer": "svg", "actions": False})
